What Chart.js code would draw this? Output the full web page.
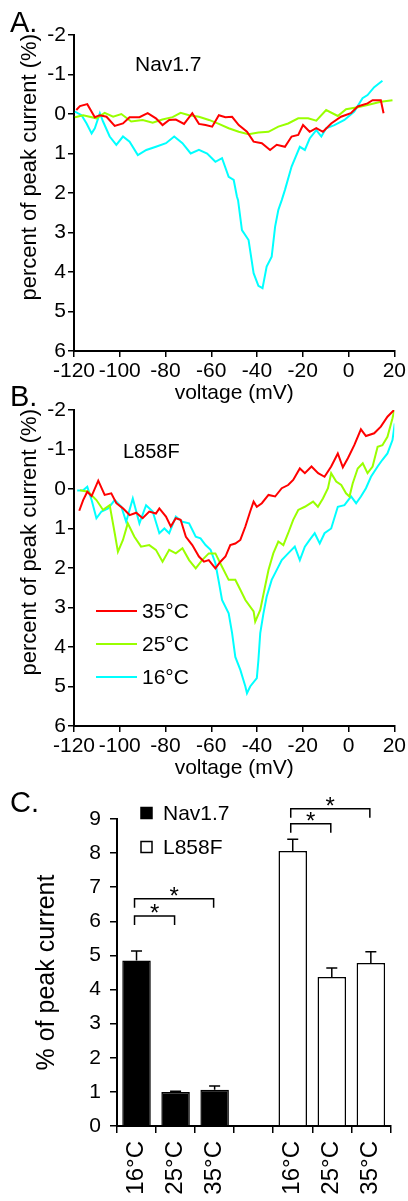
<!DOCTYPE html>
<html>
<head>
<meta charset="utf-8">
<script src="https://cdn.jsdelivr.net/npm/chart.js@4.4.1/dist/chart.umd.min.js"></script>
<style>
  body { margin: 0; background: #fff; width: 408px; height: 1201px; position: relative; overflow: hidden; }
  canvas { position: absolute; left: 0; }
</style>
</head>
<body>
<canvas id="chartA" width="408" height="410" style="top:0px"></canvas>
<canvas id="chartB" width="408" height="410" style="top:375px"></canvas>
<canvas id="chartC" width="408" height="421" style="top:780px"></canvas>
<script>
const FONT = '"Liberation Sans", Arial, Helvetica, sans-serif';
Chart.defaults.font.family = FONT;
Chart.defaults.color = '#000';

// axes of the current traces
const voltMin = -120, voltMax = 20, voltStep = 20;
const currMin = -2, currMax = 6;

// trace legend (same for A and B)
const tempLabels = ['35°C', '25°C', '16°C'];
const tempColors = ['#ff0000', '#99ff00', '#00ffff'];

// A. Nav1.7 - voltage (mV) / percent of peak current
const navV35 = [-119, -117.4, -114.2, -110.9, -108.7, -105.8, -102.2, -98.6, -95.7, -91.4, -87.8, -84.2, -81.3, -78.4, -75.5, -71.9, -68.3, -65.4, -62.5, -59.6, -56.7, -53.8, -50.9, -48, -44.4, -41.5, -37.9, -34.3, -31.4, -27.8, -24.9, -22, -19.9, -17, -14.1, -11.2, -7.6, -3.3, 1, 4, 8.3, 10.5, 14.1, 15.3];
const navI35 = [-0.1, -0.2, -0.25, 0.08, 0.03, 0.07, 0.3, 0.24, 0.08, 0.08, -0.02, 0.11, 0.28, 0.15, 0.14, 0.25, -0.02, 0.25, 0.28, 0.32, 0.03, 0.08, 0.07, 0.28, 0.45, 0.7, 0.74, 0.91, 0.78, 0.83, 0.57, 0.53, 0.28, 0.45, 0.36, 0.45, 0.24, 0.07, -0.02, -0.19, -0.27, -0.35, -0.35, -0.02];
const navV25 = [-119.6, -116, -110.2, -106.6, -102.9, -99.3, -95, -90, -85.6, -81.4, -76.9, -73.4, -69.7, -65.4, -61, -56.7, -52.4, -48, -43.7, -39.4, -35, -30.7, -26.4, -22, -17.7, -14.1, -9.8, -4.7, -1.1, 4, 8.3, 14.1, 19.2];
const navI25 = [0.08, 0.03, 0.11, -0.03, 0.07, 0, 0.19, 0.15, 0.22, 0.14, 0.08, -0.03, 0.03, 0.07, 0.15, 0.25, 0.36, 0.45, 0.51, 0.47, 0.45, 0.32, 0.24, 0.11, 0.11, 0.17, -0.1, 0.05, -0.12, -0.17, -0.23, -0.31, -0.35];
const navV16 = [-119.6, -116.7, -114.5, -112.3, -110.9, -108.7, -107.3, -104.4, -101.5, -98.6, -95.7, -92.1, -88.4, -84.2, -79.8, -76.2, -72.6, -69, -65.4, -61.8, -58.2, -55.3, -52.4, -50.2, -48.8, -48.3, -46.6, -43.7, -41.5, -39.4, -37.6, -35.8, -33.6, -32.1, -30.7, -29.2, -27.8, -24.9, -21.3, -19.1, -17, -14.1, -11.9, -9.8, -6.2, -1.8, 2.5, 6.1, 8.3, 11.2, 14.8];
const navI16 = [-0.06, 0.03, 0.24, 0.49, 0.36, -0.02, 0.19, 0.57, 0.78, 0.57, 0.7, 1.04, 0.91, 0.83, 0.74, 0.57, 0.74, 1, 0.91, 1, 1.21, 1.12, 1.59, 1.67, 2.09, 2.18, 2.94, 3.19, 4.03, 4.35, 4.41, 3.86, 3.61, 2.85, 2.43, 2.18, 1.92, 1.33, 0.83, 0.91, 0.62, 0.41, 0.57, 0.36, 0.28, 0.15, -0.06, -0.4, -0.48, -0.68, -0.84];

// B. L858F
const mutV35 = [-117.7, -116, -114.2, -112.3, -109.4, -106.6, -103.7, -101.5, -98.6, -95.7, -92.8, -90, -87.1, -84.2, -82.7, -79.8, -77.7, -75.5, -73.4, -71.1, -68.3, -65.4, -63.2, -61.1, -58.2, -56, -53.8, -51.7, -49.5, -47.3, -45.1, -43, -41.5, -40.1, -37.9, -35, -32.1, -29.2, -26.4, -24.2, -21.3, -19.1, -16.2, -13.3, -10.5, -7.6, -4.7, -2.5, -0.3, 2.5, 5.4, 7.6, 11.2, 14.1, 17, 19.9];
const mutI35 = [0.55, 0.28, 0.07, 0.18, -0.21, 0.15, 0.11, 0.36, 0.49, 0.66, 0.6, 0.74, 0.57, 0.62, 0.49, 0.7, 0.95, 0.74, 0.78, 1.21, 1.42, 1.71, 1.84, 1.8, 2.01, 1.84, 1.71, 1.42, 1.38, 1.29, 0.95, 0.57, 0.32, 0.45, 0.36, 0.15, 0.19, -0.02, -0.1, -0.23, -0.52, -0.4, -0.57, -0.4, -0.31, -0.57, -0.9, -0.55, -0.78, -1.11, -1.51, -1.34, -1.41, -1.58, -1.83, -2];
const mutV25 = [-117.4, -113.8, -110.2, -107.3, -104.4, -102.2, -100.8, -98.6, -96.5, -93.6, -90.7, -87.1, -84.2, -81.3, -78.4, -75.5, -72.6, -69.7, -66.8, -64, -61.1, -58.2, -55.3, -52.4, -49.5, -47.3, -45.1, -41.5, -40.8, -38.6, -36.5, -35, -32.9, -30.7, -28.5, -26.4, -24.2, -22, -19.1, -15.5, -13.4, -11.2, -9, -7.6, -5.4, -3.2, -1.1, 0.4, 1.8, 4, 6.2, 8.3, 10.5, 12.7, 14.8, 17, 19.2, 20];
const mutI25 = [0.03, 0.07, 0.28, 0.53, 0.41, 1.12, 1.59, 1.29, 0.87, 1.21, 1.46, 1.42, 1.54, 1.84, 1.54, 1.63, 1.5, 1.8, 2.01, 1.8, 1.63, 1.63, 1.97, 2.3, 2.3, 2.55, 2.81, 3.1, 3.36, 3.06, 2.47, 2.05, 1.63, 1.33, 1.42, 1.12, 0.78, 0.53, 0.45, 0.32, 0.45, 0.24, -0.02, -0.4, -0.19, -0.1, 0.11, 0.19, -0.14, -0.52, -0.65, -0.4, -0.57, -1.07, -1.11, -1.32, -1.79, -2];
const mutV16 = [-118.6, -116, -114.2, -112.3, -110.2, -108, -105.1, -102.2, -99.3, -97.2, -94.3, -91.4, -88.5, -85.6, -82.7, -80.5, -78.4, -75.5, -72.6, -69.7, -66.8, -64.7, -62.5, -60.3, -58.2, -56.7, -55.3, -52.4, -50.9, -49.5, -47.3, -45.1, -44.4, -43, -40.1, -39.4, -38.6, -37.2, -35.8, -33.6, -32.1, -29.2, -26.4, -23.5, -21.3, -19.1, -17, -14.8, -12.6, -10.5, -7.6, -4.7, -1.8, 1.1, 3.3, 5.4, 7.6, 9.8, 12.7, 14.8, 17, 19.2, 20.2, 20.2];
const mutI16 = [0.04, 0.03, -0.06, 0.28, 0.74, 0.57, 0.49, 0.28, 0.45, 0.83, 0.24, 0.87, 0.41, 0.57, 1.12, 1, 1.12, 0.7, 0.83, 0.87, 1.21, 1.25, 1.42, 1.54, 1.88, 2.35, 2.81, 3.15, 3.65, 4.25, 4.58, 5, 5.17, 5, 4.79, 4.33, 3.65, 3.15, 2.73, 2.3, 2.13, 1.8, 1.63, 1.46, 1.8, 1.46, 1.29, 1.12, 1.38, 1.12, 1, 0.45, 0.41, 0.19, 0.36, 0.19, -0.02, -0.31, -0.57, -0.74, -0.9, -1.24, -1.66, -0.82];

// C. % of peak current, bar chart
const condLabels = ['16°C', '25°C', '35°C', '', '16°C', '25°C', '35°C'];
const navMean = [4.85, 1.0, 1.06, null, null, null, null];
const navSem  = [0.28, 0.02, 0.11, null, null, null, null];
const mutMean = [null, null, null, null, 8.06, 4.37, 4.78];
const mutSem  = [null, null, null, null, 0.35, 0.26, 0.33];
// significance brackets: from category, to category, height (% units)
const sigFrom  = [0, 0, 4, 4];
const sigTo    = [1, 2, 5, 6];
const sigLevel = [6.16, 6.66, 8.86, 9.3];

const pts = (xs, ys) => xs.map((x, i) => ({ x: x, y: ys[i] }));

// free text on the canvas (panel letters, construct names, y title)
const notes = {
  id: 'notes',
  afterDraw(chart, args, opts) {
    const ctx = chart.ctx;
    ctx.save();
    ctx.fillStyle = '#000';
    ctx.textAlign = 'left';
    ctx.textBaseline = 'alphabetic';
    (opts.items || []).forEach(t => {
      ctx.font = t.size + 'px ' + FONT;
      ctx.fillText(t.text, t.x, t.y);
    });
    if (opts.ytitle) {
      // y title hangs down from the top of the plot, reading upwards
      ctx.translate(opts.ytitle.x, chart.chartArea.top - 1);
      ctx.rotate(-Math.PI / 2);
      ctx.textAlign = 'right';
      ctx.textBaseline = 'middle';
      ctx.font = opts.ytitle.size + 'px ' + FONT;
      ctx.fillText(opts.ytitle.text, 0, 0);
    }
    ctx.restore();
  }
};

// line legend used in panel B
const lineKey = {
  id: 'lineKey',
  afterDraw(chart, args, opts) {
    if (!opts.show) return;
    const ctx = chart.ctx;
    ctx.save();
    ctx.font = '21px ' + FONT;
    ctx.textBaseline = 'middle';
    ctx.fillStyle = '#000';
    chart.data.datasets.forEach((ds, i) => {
      const y = opts.y + i * opts.dy;
      ctx.strokeStyle = ds.borderColor;
      ctx.lineWidth = 2;
      ctx.beginPath();
      ctx.moveTo(opts.x, y);
      ctx.lineTo(opts.x + opts.len, y);
      ctx.stroke();
      ctx.fillText(ds.label, opts.x + opts.len + 5, y + 1);
    });
    ctx.restore();
  }
};

function traceChart(id, series, opts) {
  return new Chart(document.getElementById(id), {
    type: 'line',
    data: {
      datasets: series.map((s, i) => ({
        label: tempLabels[i],
        data: pts(s[0], s[1]),
        borderColor: tempColors[i],
        borderWidth: 2,
        pointRadius: 0,
        tension: 0
      }))
    },
    options: {
      responsive: false,
      animation: false,
      layout: { padding: { top: 35, right: 11, left: 0, bottom: 0 } },
      plugins: {
        legend: { display: false },
        tooltip: { enabled: false },
        notes: { items: opts.notes, ytitle: { text: 'percent of peak current (%)', x: 30, size: 22 } },
        lineKey: opts.key || { show: false }
      },
      scales: {
        x: {
          type: 'linear',
          min: voltMin,
          max: voltMax,
          ticks: { stepSize: voltStep, font: { size: 21 }, padding: 2, maxRotation: 0, autoSkip: false },
          grid: { drawOnChartArea: false, color: '#000', lineWidth: 1.5, tickLength: 6 },
          border: { color: '#000', width: 2 },
          title: { display: true, text: 'voltage (mV)', font: { size: 21 }, padding: { top: 0, bottom: 4 } },
          afterFit: s => { s.height = 59; }
        },
        y: {
          type: 'linear',
          reverse: true,
          min: currMin,
          max: currMax,
          ticks: { stepSize: 1, font: { size: 21 }, padding: 2 },
          grid: { drawOnChartArea: false, color: '#000', lineWidth: 1.5, tickLength: 6 },
          border: { color: '#000', width: 2 },
          afterFit: s => { s.width = 74; }
        }
      }
    },
    plugins: [notes, lineKey]
  });
}

traceChart('chartA', [[navV35, navI35], [navV25, navI25], [navV16, navI16]], {
  notes: [
    { text: 'A.', x: 10, y: 32, size: 29 },
    { text: 'Nav1.7', x: 135, y: 71, size: 21 }
  ]
});

traceChart('chartB', [[mutV35, mutI35], [mutV25, mutI25], [mutV16, mutI16]], {
  notes: [
    { text: 'B.', x: 10, y: 31, size: 29 },
    { text: 'L858F', x: 123, y: 83, size: 20 }
  ],
  key: { show: true, x: 96, y: 236, dy: 33, len: 41 }
});

// error bars, significance brackets and square legend for panel C
const barExtras = {
  id: 'barExtras',
  afterDatasetsDraw(chart) {
    const ctx = chart.ctx;
    const xs = chart.scales.x, ys = chart.scales.y;
    ctx.save();
    ctx.strokeStyle = '#000';
    ctx.lineWidth = 1.5;
    chart.data.datasets.forEach((ds, di) => {
      const meta = chart.getDatasetMeta(di);
      ds.data.forEach((v, i) => {
        if (v == null) return;
        const bx = meta.data[i].x;
        const yb = ys.getPixelForValue(v);
        const yt = ys.getPixelForValue(v + ds.sem[i]);
        ctx.beginPath();
        ctx.moveTo(bx, yb);
        ctx.lineTo(bx, yt);
        ctx.moveTo(bx - 5.5, yt);
        ctx.lineTo(bx + 5.5, yt);
        ctx.stroke();
      });
    });
    ctx.fillStyle = '#000';
    ctx.textAlign = 'center';
    ctx.textBaseline = 'alphabetic';
    ctx.font = '24px ' + FONT;
    sigLevel.forEach((lv, k) => {
      const x1 = xs.getPixelForValue(sigFrom[k]) - 2;
      const x2 = xs.getPixelForValue(sigTo[k]) - 1;
      const y = ys.getPixelForValue(lv);
      ctx.beginPath();
      ctx.moveTo(x1, y + 9);
      ctx.lineTo(x1, y);
      ctx.lineTo(x2, y);
      ctx.lineTo(x2, y + 9);
      ctx.stroke();
      ctx.fillText('*', (x1 + x2) / 2, y + 5);
    });
    ctx.restore();
  },
  afterDraw(chart) {
    const ctx = chart.ctx;
    ctx.save();
    ctx.font = '21px ' + FONT;
    ctx.textBaseline = 'middle';
    chart.data.datasets.forEach((ds, i) => {
      const cy = 33 + i * 34;
      ctx.fillStyle = ds.backgroundColor;
      ctx.fillRect(141, cy - 5.5, 11, 11);
      ctx.strokeStyle = '#000';
      ctx.lineWidth = 1.5;
      ctx.strokeRect(141, cy - 5.5, 11, 11);
      ctx.fillStyle = '#000';
      ctx.fillText(ds.label, 163, cy + 1);
    });
    ctx.font = '29px ' + FONT;
    ctx.textBaseline = 'alphabetic';
    ctx.fillText('C.', 10, 32);
    ctx.restore();
  }
};

new Chart(document.getElementById('chartC'), {
  type: 'bar',
  data: {
    labels: condLabels,
    datasets: [
      { label: 'Nav1.7', data: navMean, sem: navSem, backgroundColor: '#000000', borderColor: '#000', borderWidth: 1.5 },
      { label: 'L858F', data: mutMean, sem: mutSem, backgroundColor: '#ffffff', borderColor: '#000', borderWidth: 1.5 }
    ]
  },
  options: {
    responsive: false,
    animation: false,
    layout: { padding: { top: 39, right: 5, left: 0, bottom: 0 } },
    datasets: { bar: { grouped: false, barPercentage: 0.73, categoryPercentage: 1 } },
    plugins: { legend: { display: false }, tooltip: { enabled: false } },
    scales: {
      x: {
        ticks: { font: { size: 24 }, minRotation: 90, maxRotation: 90, autoSkip: false, padding: 8 },
        grid: { drawOnChartArea: false, color: '#000', lineWidth: 1.5, tickLength: 7 },
        border: { color: '#000', width: 2 },
        afterFit: s => { s.height = 75; }
      },
      y: {
        min: 0,
        max: 9,
        ticks: { stepSize: 1, font: { size: 21 }, padding: 9 },
        grid: { drawOnChartArea: false, color: '#000', lineWidth: 1.5, tickLength: 7 },
        border: { color: '#000', width: 2 },
        title: { display: true, text: '% of peak current', font: { size: 25 }, padding: { top: 32, bottom: 0 } },
        afterFit: s => { s.width = 117; }
      }
    }
  },
  plugins: [barExtras]
});
</script>
</body>
</html>
